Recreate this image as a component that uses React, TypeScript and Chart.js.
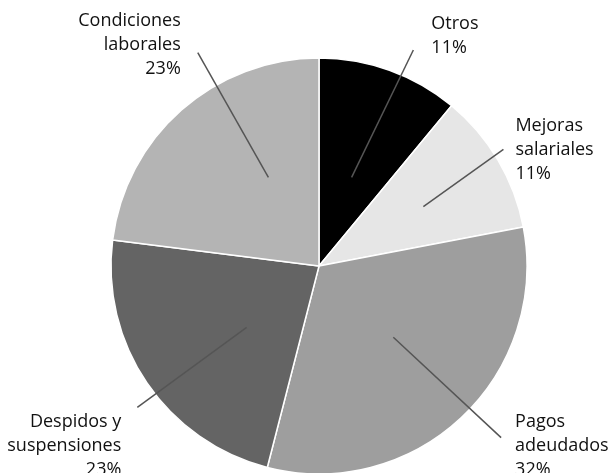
import React, { useEffect, useRef } from "react";
import { Chart, registerables } from "chart.js";

Chart.register(...registerables);

// ---- data ----
const categories = ["Otros", "Mejoras salariales", "Pagos adeudados", "Despidos y suspensiones", "Condiciones laborales"];
const labelLines = [["Otros"], ["Mejoras", "salariales"], ["Pagos", "adeudados"], ["Despidos y", "suspensiones"], ["Condiciones", "laborales"]];
const values = [11, 11, 32, 23, 23];
const colors = ["#000000", "#e6e6e6", "#9e9e9e", "#646464", "#b4b4b4"];

// ---- label layout (leader line polar coords, text offsets) ----
// [innerAngleDeg, innerRadiusFactor, outerAngleDeg, outerRadiusFactor]
const leaderGeometry = [
  [20.2, 0.454, 23.6, 1.133],
  [60.4, 0.577, 57.7, 1.049],
  [133.8, 0.495, 133.3, 1.203],
  [229.7, 0.456, 232.1, 1.107],
  [330.3, 0.491, 330.4, 1.18],
];
// [dx, dy of first baseline, align]
const textOffsets: [number, number, CanvasTextAlign][] = [
  [18, -21, "left"],
  [12, -18, "left"],
  [14, -11, "left"],
  [-16, 20, "right"],
  [-17, -27, "right"],
];
const FONT = '18px "Open Sans"';
const LINE_H = 24;

const leaderLabels = {
  id: "leaderLabels",
  afterDraw(chart: any) {
    const meta = chart.getDatasetMeta(0);
    const a0 = meta.data[0];
    const { x: cx, y: cy, outerRadius: r } = a0.getProps(["x", "y", "outerRadius"], true);
    const ctx: CanvasRenderingContext2D = chart.ctx;
    const total = values.reduce((s, v) => s + v, 0);
    const pt = (deg: number, f: number) => {
      const a = (deg * Math.PI) / 180;
      return { x: cx + f * r * Math.sin(a), y: cy - f * r * Math.cos(a) };
    };
    ctx.save();
    values.forEach((v, i) => {
      const [ia, ir, oa, or] = leaderGeometry[i];
      const p1 = pt(ia, ir);
      const p2 = pt(oa, or);
      ctx.beginPath();
      ctx.moveTo(p1.x, p1.y);
      ctx.lineTo(p2.x, p2.y);
      ctx.strokeStyle = "#555555";
      ctx.lineWidth = 1.5;
      ctx.stroke();
      const [dx, dy, align] = textOffsets[i];
      const lines = [...labelLines[i], Math.round((v / total) * 100) + "%"];
      ctx.font = FONT;
      ctx.fillStyle = "#111111";
      ctx.textAlign = align;
      ctx.textBaseline = "alphabetic";
      lines.forEach((t, k) => {
        ctx.fillText(t, p2.x + dx, p2.y + dy + k * LINE_H);
      });
    });
    ctx.restore();
  },
};

export default function App() {
  const ref = useRef<HTMLCanvasElement>(null);
  useEffect(() => {
    if (!ref.current) return;
    const chart = new Chart(ref.current, {
      type: "pie",
      data: {
        labels: categories,
        datasets: [
          {
            data: values,
            backgroundColor: colors,
            borderColor: "#ffffff",
            borderWidth: 1.5,
          },
        ],
      },
      options: {
        responsive: false,
        animation: false,
        devicePixelRatio: 1,
        radius: 208,
        layout: { padding: { left: 25, right: 0, top: 59, bottom: 0 } },
        plugins: { legend: { display: false }, tooltip: { enabled: false } },
      } as any,
      plugins: [leaderLabels],
    });
    return () => chart.destroy();
  }, []);
  return (
    <div style={{ position: "fixed", left: 0, top: 0, width: 613, height: 473, background: "#fff" }}>
      <canvas ref={ref} width={613} height={473} />
    </div>
  );
}
